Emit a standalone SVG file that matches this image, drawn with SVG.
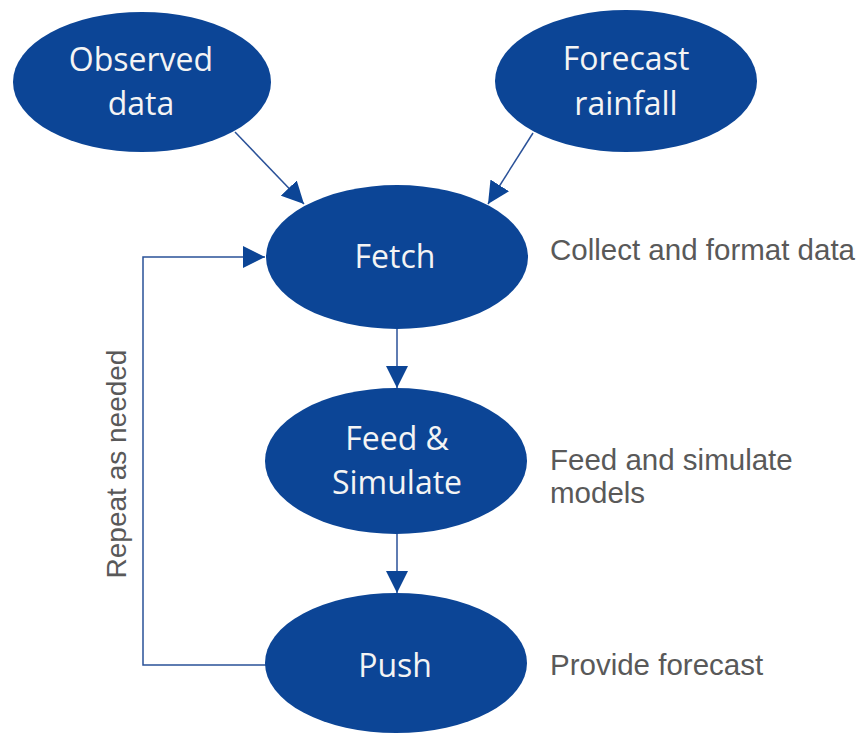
<svg xmlns="http://www.w3.org/2000/svg" width="859" height="734" viewBox="0 0 859 734">
<style>
.node{fill:#0c4596}
.nt{font-family:"Open Sans","Noto Sans",sans-serif;font-size:32px;fill:#f4f4f4;text-anchor:middle}
.lbl{font-family:"Liberation Sans",Arial,sans-serif;font-size:29.5px;fill:#595959}
.rep{font-family:"Liberation Sans",Arial,sans-serif;font-size:28px;fill:#595959}
.conn{stroke:#2a5198;stroke-width:1.5;fill:none}
</style>
<defs>
<marker id="arr" markerUnits="userSpaceOnUse" markerWidth="22" markerHeight="22" viewBox="0 0 20 20" refX="20" refY="10" orient="auto">
<path d="M0,0 L20,10 L0,20 Z" fill="#0c4596"/>
</marker>
</defs>
<rect width="859" height="734" fill="#ffffff"/>
<g id="connectors">
<line class="conn" x1="235" y1="132" x2="304" y2="204" marker-end="url(#arr)"/>
<line class="conn" x1="533" y1="133" x2="488" y2="204" marker-end="url(#arr)"/>
<line class="conn" x1="397" y1="328" x2="397" y2="388" marker-end="url(#arr)"/>
<line class="conn" x1="397" y1="533" x2="397" y2="593" marker-end="url(#arr)"/>
<polyline class="conn" points="266,665 143,665 143,257 265,257" marker-end="url(#arr)"/>
</g>
<g id="observed">
<ellipse class="node" cx="142" cy="82" rx="129" ry="70"/>
<text class="nt" x="141" y="71">Observed</text>
<text class="nt" x="141" y="115">data</text>
</g>
<g id="forecast">
<ellipse class="node" cx="626" cy="81" rx="131" ry="71"/>
<text class="nt" x="626" y="70">Forecast</text>
<text class="nt" x="626" y="115">rainfall</text>
</g>
<g id="fetch">
<ellipse class="node" cx="397" cy="257" rx="131" ry="72"/>
<text class="nt" x="395" y="268">Fetch</text>
</g>
<g id="feed">
<ellipse class="node" cx="396" cy="461" rx="131" ry="73"/>
<text class="nt" x="397" y="450">Feed &amp;</text>
<text class="nt" x="397" y="494">Simulate</text>
</g>
<g id="push">
<ellipse class="node" cx="396" cy="663" rx="131" ry="70"/>
<text class="nt" x="395" y="677">Push</text>
</g>
<g id="labels">
<text class="lbl" x="550" y="260">Collect and format data</text>
<text class="lbl" x="550" y="470">Feed and simulate</text>
<text class="lbl" x="550" y="503">models</text>
<text class="lbl" x="550" y="675">Provide forecast</text>
<text class="rep" transform="translate(126,464) rotate(-90)" text-anchor="middle">Repeat as needed</text>
</g>
</svg>
